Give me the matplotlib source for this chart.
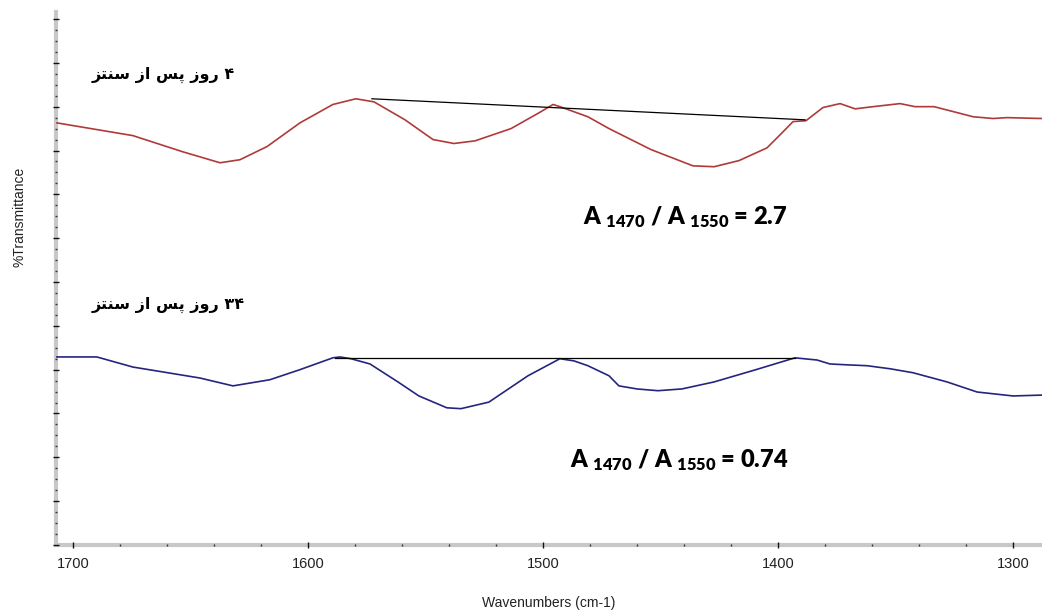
import numpy as np
import matplotlib
matplotlib.use('Agg')
import matplotlib.pyplot as plt
from matplotlib.ticker import MultipleLocator

plt.rcParams['mathtext.fontset'] = 'custom'
plt.rcParams['mathtext.rm'] = 'Lato:heavy'
plt.rcParams['mathtext.it'] = 'Lato:heavy'
plt.rcParams['mathtext.bf'] = 'Lato:heavy'

# 4 days after synthesis (red)
wn_4 = [1706.8, 1674.5, 1653.2, 1637.4, 1628.9, 1617.4, 1603.4, 1589.4, 1579.6, 1571.9,
        1558.7, 1546.8, 1537.9, 1528.9, 1513.6, 1501.7, 1495.7, 1492.8, 1480.9, 1471.9,
        1454.0, 1436.2, 1427.2, 1416.6, 1404.7, 1399.1, 1393.6, 1388.1, 1380.9, 1373.6,
        1367.2, 1359.6, 1348.1, 1341.7, 1333.6, 1317.0, 1308.5, 1302.6, 1287.7]
t_4 = [9.63, 9.34, 8.97, 8.72, 8.79, 9.09, 9.63, 10.05, 10.18, 10.11,
       9.70, 9.25, 9.16, 9.22, 9.50, 9.86, 10.05, 10.00, 9.77, 9.50,
       9.02, 8.65, 8.63, 8.77, 9.06, 9.36, 9.66, 9.68, 9.98, 10.07,
       9.95, 10.00, 10.07, 10.00, 10.00, 9.77, 9.73, 9.75, 9.73]
base_4_wn = [1572.8, 1388.5]
base_4_t = [10.18, 9.70]

# 34 days after synthesis (blue)
wn_34 = [1706.8, 1689.8, 1674.5, 1646.0, 1631.9, 1616.2, 1603.4, 1589.4, 1586.4, 1581.7,
         1573.6, 1561.7, 1552.8, 1540.9, 1534.9, 1523.0, 1506.4, 1492.8, 1486.8, 1480.9,
         1471.9, 1467.7, 1460.0, 1451.1, 1440.9, 1427.2, 1409.4, 1392.8, 1383.4, 1377.9,
         1370.6, 1362.1, 1352.3, 1342.6, 1328.1, 1315.3, 1300.0, 1287.7]
t_34 = [4.29, 4.29, 4.06, 3.81, 3.63, 3.77, 4.00, 4.27, 4.29, 4.25,
        4.13, 3.72, 3.40, 3.13, 3.11, 3.26, 3.86, 4.25, 4.20, 4.09,
        3.86, 3.63, 3.56, 3.52, 3.56, 3.72, 4.00, 4.27, 4.22, 4.13,
        4.11, 4.09, 4.02, 3.93, 3.72, 3.49, 3.40, 3.42]
base_34_wn = [1588.5, 1392.8]
base_34_t = [4.27, 4.27]

# persian labels, pre-shaped glyphs in visual order
sentez = '\uFEB0\uFE98\uFEE8\uFEB3'
az = '\uFEAF\uFE8D'
pas = '\uFEB2\uFB58'
ruz = '\uFEAF\uFEED\uFEAD'
label_4 = sentez + ' ' + az + ' ' + pas + ' ' + ruz + ' ' + '\u06F4'
label_34 = sentez + ' ' + az + ' ' + pas + ' ' + ruz + ' ' + '\u06F3\u06F4'

fig = plt.figure(figsize=(10.42, 6.12), dpi=100)
ax = fig.add_axes([0.0537, 0.1095, 0.9463, 0.8709])

ax.plot(wn_4, t_4, color='#b03a3a', lw=1.2)
ax.plot(base_4_wn, base_4_t, color='black', lw=0.9)
ax.plot(wn_34, t_34, color='#25257f', lw=1.2)
ax.plot(base_34_wn, base_34_t, color='black', lw=0.9)

ax.set_xlim(1707.2, 1287.7)
ax.set_ylim(0, 12.16)

ax.xaxis.set_major_locator(MultipleLocator(100))
ax.xaxis.set_minor_locator(MultipleLocator(20))
ax.yaxis.set_major_locator(MultipleLocator(1))
ax.yaxis.set_minor_locator(MultipleLocator(0.25))
ax.set_yticklabels([])
ax.tick_params(which='major', direction='inout', length=5, width=1, color='#111111')
ax.tick_params(which='minor', direction='inout', length=2, width=1, color='#333333')
ax.tick_params(axis='x', labelsize=10.5, pad=6, labelcolor='#222222')
for lbl in ax.get_xticklabels():
    lbl.set_family('Liberation Sans')
ax.set_axisbelow(False)

for s in ['top', 'right']:
    ax.spines[s].set_visible(False)
for s in ['left', 'bottom']:
    ax.spines[s].set_color('#c8c8c8')
    ax.spines[s].set_linewidth(3)
    ax.spines[s].set_zorder(1)

ax.set_xlabel('Wavenumbers (cm-1)', family='Liberation Sans', fontsize=10, labelpad=18,
              color='#222222')
fig.text(20 / 1042, 1 - 217 / 612, '%Transmittance', family='Liberation Sans', fontsize=10,
         rotation=90, ha='center', va='center', color='#222222')

ax.text(1691.9, 10.73, label_4, family='DejaVu Sans', fontweight='bold', fontsize=11.5,
        ha='left', va='center')
ax.text(1691.9, 5.48, label_34, family='DejaVu Sans', fontweight='bold', fontsize=11.5,
        ha='left', va='center')

ax.text(1483, 7.49, 'A $_{1470}$ / A $_{1550}$ = 2.7', family='Lato', fontweight='heavy',
        fontsize=17, ha='left', va='center')
ax.text(1488.5, 1.94, 'A $_{1470}$ / A $_{1550}$ = 0.74', family='Lato', fontweight='heavy',
        fontsize=17, ha='left', va='center')

fig.savefig('out.png', dpi=100)
